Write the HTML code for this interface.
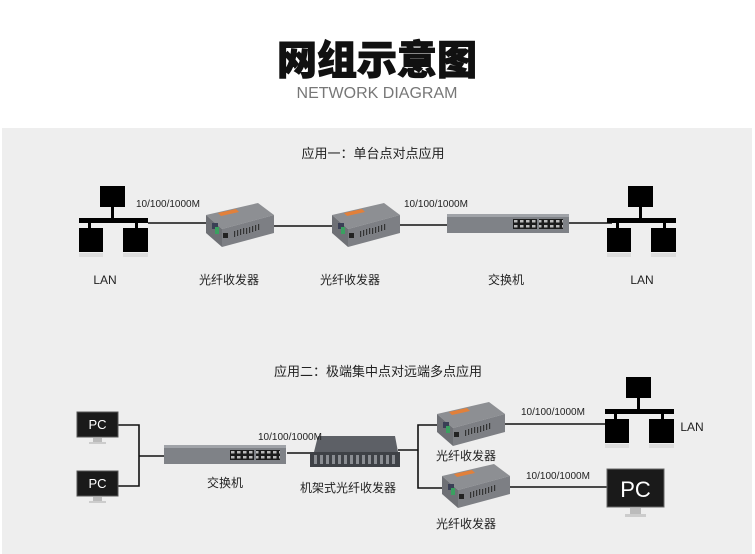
<!DOCTYPE html>
<html><head><meta charset="utf-8"><style>
html,body{margin:0;padding:0;background:#fff;}
svg{display:block;}
text{font-family:"Liberation Sans","Noto Sans CJK SC",sans-serif;}
</style></head><body>
<svg width="755" height="554" viewBox="0 0 755 554" xmlns="http://www.w3.org/2000/svg">
<defs>
<pattern id="ports" width="6" height="5" patternUnits="userSpaceOnUse">
 <rect width="6" height="5" fill="#1c1c1c"/><rect x="1" y="1" width="3.5" height="2.5" fill="#bbb"/>
</pattern>
<g id="conv">
 <polygon points="0,12 52,0 68,12 16,26" fill="#8d8f93"/>
 <polygon points="0,12 16,26 16,44 0,30" fill="#6e7075"/>
 <polygon points="16,26 68,12 68,30 16,44" fill="#7d7f84"/>
 <polygon points="12,10 30,6 33,9 15,13" fill="#e2803a"/>
 <rect x="6" y="20" width="6" height="6" fill="#3a3f55"/>
 <rect x="9" y="24" width="4" height="7" fill="#3aa060"/>
 <rect x="17" y="30" width="5" height="5" fill="#222"/>
 <g fill="#333"><rect x="28" y="28" width="1.2" height="6"/><rect x="31" y="27" width="1.2" height="6"/><rect x="34" y="26" width="1.2" height="6"/><rect x="37" y="25" width="1.2" height="6"/><rect x="40" y="25" width="1.2" height="6"/><rect x="43" y="24" width="1.2" height="6"/><rect x="46" y="23" width="1.2" height="6"/><rect x="49" y="22" width="1.2" height="6"/><rect x="52" y="21" width="1.2" height="6"/></g>
</g>
<g id="lan">
 <rect x="21" y="0" width="25" height="21" fill="#000"/>
 <rect x="32" y="21" width="3" height="13" fill="#000"/>
 <rect x="0" y="32" width="69" height="5" fill="#000"/>
 <rect x="9" y="37" width="3" height="6" fill="#000"/>
 <rect x="56" y="37" width="3" height="6" fill="#000"/>
 <rect x="0" y="42" width="24" height="24" fill="#000"/>
 <rect x="44" y="42" width="25" height="24" fill="#000"/>
 <rect x="0" y="67" width="24" height="4" fill="#ddd"/>
 <rect x="44" y="67" width="25" height="4" fill="#ddd"/>
</g>
<g id="sw">
 <rect x="0" y="0" width="122" height="19" fill="#7f8287"/>
 <rect x="0" y="0" width="122" height="3" fill="#a0a3a8"/>
 <rect x="66" y="5" width="24" height="10" fill="url(#ports)"/>
 <rect x="92" y="5" width="24" height="10" fill="url(#ports)"/>
</g>
<g id="pc">
 <rect x="0" y="0" width="41" height="25" fill="#1a1a1a" stroke="#555" stroke-width="1"/>
 <rect x="16" y="26" width="9" height="4" fill="#bbb"/>
 <rect x="12" y="30" width="17" height="2" fill="#ccc"/>
 <text x="20.5" y="17" font-size="13" fill="#fff" text-anchor="middle">PC</text>
</g>
</defs>

<text x="377" y="74" font-size="40" font-weight="900" text-anchor="middle" fill="#111" stroke="#111" stroke-width="1" font-family="Noto Sans CJK SC, sans-serif">网组示意图</text>
<text x="377" y="98" font-size="16" text-anchor="middle" fill="#777">NETWORK DIAGRAM</text>

<rect x="2" y="128" width="750" height="426" fill="#eeeeee"/>

<text x="373" y="158" font-size="13" text-anchor="middle" fill="#222">应用一：单台点对点应用</text>

<g stroke="#111" stroke-width="1.6" fill="none">
 <line x1="148" y1="223" x2="208" y2="223"/>
 <line x1="274" y1="226" x2="334" y2="226"/>
 <line x1="400" y1="225" x2="447" y2="225"/>
 <line x1="568" y1="223" x2="612" y2="223"/>
</g>
<use href="#lan" x="79" y="186"/>
<use href="#conv" x="206" y="203"/>
<use href="#conv" x="332" y="203"/>
<use href="#sw" x="447" y="214"/>
<use href="#lan" x="607" y="186"/>
<g font-size="10" fill="#222">
 <text x="136" y="207">10/100/1000M</text>
 <text x="404" y="207">10/100/1000M</text>
</g>
<g font-size="12" fill="#222" text-anchor="middle">
 <text x="105" y="284">LAN</text>
 <text x="229" y="284">光纤收发器</text>
 <text x="350" y="284">光纤收发器</text>
 <text x="506" y="284">交换机</text>
 <text x="642" y="284">LAN</text>
</g>

<text x="378" y="376" font-size="13" text-anchor="middle" fill="#222">应用二：极端集中点对远端多点应用</text>

<g stroke="#111" stroke-width="1.6" fill="none">
 <polyline points="118,425 139,425 139,486 118,486"/>
 <line x1="139" y1="456" x2="164" y2="456"/>
 <line x1="287" y1="453" x2="312" y2="453"/>
 <line x1="398" y1="450" x2="418" y2="450"/>
 <polyline points="440,425 418,425 418,488 444,488"/>
 <line x1="505" y1="424" x2="606" y2="424"/>
 <line x1="510" y1="487" x2="607" y2="487"/>
</g>
<use href="#pc" x="77" y="412"/>
<use href="#pc" x="77" y="471"/>
<use href="#sw" x="164" y="445"/>
<polygon points="318,436 395,436 398,452 314,452" fill="#5d6066"/>
<rect x="310" y="452" width="90" height="15" fill="#3e4146"/>
<g fill="#8a8d92">
 <rect x="314" y="455" width="3" height="9"/><rect x="320" y="455" width="3" height="9"/><rect x="326" y="455" width="3" height="9"/><rect x="332" y="455" width="3" height="9"/><rect x="338" y="455" width="3" height="9"/><rect x="344" y="455" width="3" height="9"/><rect x="350" y="455" width="3" height="9"/><rect x="356" y="455" width="3" height="9"/><rect x="362" y="455" width="3" height="9"/><rect x="368" y="455" width="3" height="9"/><rect x="374" y="455" width="3" height="9"/><rect x="380" y="455" width="3" height="9"/><rect x="386" y="455" width="3" height="9"/><rect x="392" y="455" width="3" height="9"/>
</g>
<use href="#conv" x="437" y="402"/>
<use href="#conv" x="442" y="464"/>
<use href="#lan" x="605" y="377"/>
<rect x="607" y="469" width="57" height="38" fill="#1a1a1a" stroke="#666" stroke-width="1"/>
<text x="635.5" y="497" font-size="22" fill="#fff" text-anchor="middle">PC</text>
<rect x="630" y="508" width="11" height="6" fill="#bbb"/>
<rect x="625" y="514" width="21" height="3" fill="#ccc"/>

<g font-size="10" fill="#222">
 <text x="258" y="440">10/100/1000M</text>
 <text x="521" y="415">10/100/1000M</text>
 <text x="526" y="479">10/100/1000M</text>
</g>
<g font-size="12" fill="#222" text-anchor="middle">
 <text x="225" y="487">交换机</text>
 <text x="348" y="492">机架式光纤收发器</text>
 <text x="466" y="460">光纤收发器</text>
 <text x="466" y="528">光纤收发器</text>
 <text x="692" y="431">LAN</text>
</g>
</svg>
</body></html>
